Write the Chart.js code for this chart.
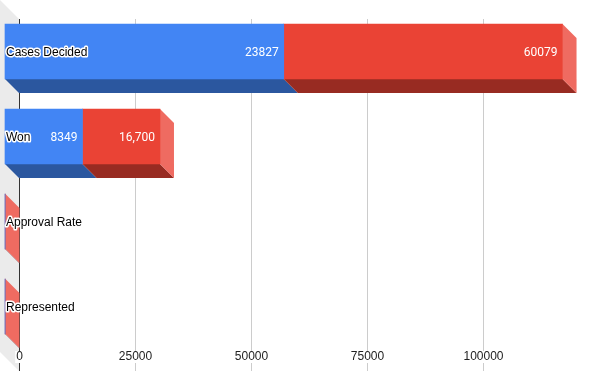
<!DOCTYPE html>
<html>
<head>
<meta charset="utf-8">
<script src="https://cdn.jsdelivr.net/npm/chart.js@4"></script>
<style>
  html, body { margin: 0; padding: 0; background: #fff; }
  .chart-box { width: 600px; height: 371px; position: relative; }
</style>
</head>
<body>
<div class="chart-box"><canvas id="chart"></canvas></div>
<script>
const categories = ['Cases Decided', 'Won', 'Approval Rate', 'Represented'];
const blueValues = [60079, 16700, 30, 30];
const redValues = [60079, 16700, 60, 60];
const blueLabels = ['23827', '8349', '', ''];
const redLabels = ['60079', '16,700', '', ''];
const xTicks = [0, 25000, 50000, 75000, 100000];

const DEPTH = 14;   // bar depth offset
const WALL = 19;    // left wall depth
const PLOT_TOP = 19;
const PLOT_BOTTOM = 371;

const faces = [
    { front: '#4285f4', bottom: '#2b579f', side: '#6c9ef6' },
    { front: '#ea4335', bottom: '#982b22', side: '#ef6b61' },
];

const poly = (ctx, pts) => {
    ctx.beginPath();
    ctx.moveTo(pts[0][0], pts[0][1]);
    for (let i = 1; i < pts.length; i++) ctx.lineTo(pts[i][0], pts[i][1]);
    ctx.closePath();
    ctx.fill();
};

const threeD = {
    id: 'threeD',
    beforeDatasetsDraw(chart) {
        const { ctx } = chart;
        const x = chart.scales.x;
        const x0 = x.getPixelForValue(0);

        ctx.save();
        // left wall
        ctx.fillStyle = '#ebebeb';
        poly(ctx, [[x0 - WALL, PLOT_TOP - WALL], [x0, PLOT_TOP], [x0, PLOT_BOTTOM], [x0 - WALL, PLOT_BOTTOM - WALL]]);

        // grid lines on the back plane
        ctx.strokeStyle = '#cccccc';
        ctx.lineWidth = 1;
        xTicks.slice(1).forEach((t) => {
            const px = Math.round(x.getPixelForValue(t)) + 0.5;
            ctx.beginPath();
            ctx.moveTo(px, PLOT_TOP);
            ctx.lineTo(px, PLOT_BOTTOM);
            ctx.stroke();
        });

        // zero axis line
        ctx.strokeStyle = '#333333';
        ctx.beginPath();
        ctx.moveTo(Math.round(x0) + 0.5, PLOT_TOP);
        ctx.lineTo(Math.round(x0) + 0.5, PLOT_BOTTOM);
        ctx.stroke();

        // bottom and side faces
        const last = chart.data.datasets.length - 1;
        chart.data.datasets.forEach((ds, di) => {
            const meta = chart.getDatasetMeta(di);
            meta.data.forEach((bar) => {
                const { x: xe, y: yc, base, height } = bar.getProps(['x', 'y', 'base', 'height'], true);
                const y0 = yc - height / 2;
                const y1 = yc + height / 2;
                ctx.fillStyle = faces[di].bottom;
                poly(ctx, [[base - DEPTH, y1 - DEPTH], [xe - DEPTH, y1 - DEPTH], [xe, y1], [base, y1]]);
                if (di === last) {
                    ctx.fillStyle = faces[di].side;
                    poly(ctx, [[xe - DEPTH, y0 - DEPTH], [xe, y0], [xe, y1], [xe - DEPTH, y1 - DEPTH]]);
                }
            });
        });
        ctx.restore();

        // front faces are drawn shifted toward the viewer
        ctx.save();
        ctx.translate(-DEPTH, -DEPTH);
    },
    afterDatasetsDraw(chart) {
        const { ctx } = chart;
        ctx.restore();

        const x = chart.scales.x;
        const y = chart.scales.y;

        // value labels
        ctx.save();
        ctx.font = '12px Roboto';
        ctx.fillStyle = '#ffffff';
        ctx.textAlign = 'right';
        ctx.textBaseline = 'middle';
        const labelSets = [blueLabels, redLabels];
        chart.data.datasets.forEach((ds, di) => {
            const meta = chart.getDatasetMeta(di);
            meta.data.forEach((bar, i) => {
                const txt = labelSets[di][i];
                if (!txt) return;
                const { x: xe, y: yc } = bar.getProps(['x', 'y'], true);
                ctx.fillText(txt, xe - DEPTH - 5, yc - DEPTH + 1);
            });
        });

        // category labels with white halo
        ctx.font = '12px "Liberation Sans", Arial';
        ctx.textAlign = 'left';
        ctx.lineJoin = 'round';
        ctx.lineWidth = 3;
        ctx.strokeStyle = '#ffffff';
        ctx.fillStyle = '#000000';
        categories.forEach((c, i) => {
            const py = y.getPixelForValue(i) - DEPTH + 1;
            ctx.strokeText(c, x.getPixelForValue(0) - DEPTH + 1, py);
            ctx.fillText(c, x.getPixelForValue(0) - DEPTH + 1, py);
        });

        // x tick labels with white backdrop
        ctx.textAlign = 'center';
        ctx.fillStyle = '#222222';
        xTicks.forEach((t) => {
            const px = x.getPixelForValue(t) + 0.5;
            const label = String(t);
            const w = ctx.measureText(label).width;
            ctx.fillStyle = '#ffffff';
            ctx.fillRect(px - w / 2 - 1, 351, w + 2, 12);
            ctx.fillStyle = '#222222';
            ctx.fillText(label, px, 357);
        });
        ctx.restore();
    },
};

const ctx = document.getElementById('chart').getContext('2d');

const myChart = new Chart(ctx, {
    type: 'bar',
    data: {
        labels: categories,
        datasets: [
            {
                label: 'Blue',
                data: blueValues,
                backgroundColor: faces[0].front,
                barThickness: 55,
                clip: false,
            },
            {
                label: 'Red',
                data: redValues,
                backgroundColor: faces[1].front,
                barThickness: 55,
                clip: false,
            },
        ],
    },
    options: {
        indexAxis: 'y',
        responsive: true,
        maintainAspectRatio: false,
        animation: false,
        devicePixelRatio: 1,
        layout: {
            padding: { left: 19, top: 23, right: 1, bottom: 8 },
        },
        plugins: {
            legend: { display: false },
            tooltip: { enabled: false },
        },
        scales: {
            x: {
                display: false,
                stacked: true,
                min: 0,
                max: 125000,
            },
            y: {
                display: false,
                stacked: true,
            },
        },
    },
    plugins: [threeD],
});
</script>
</body>
</html>
